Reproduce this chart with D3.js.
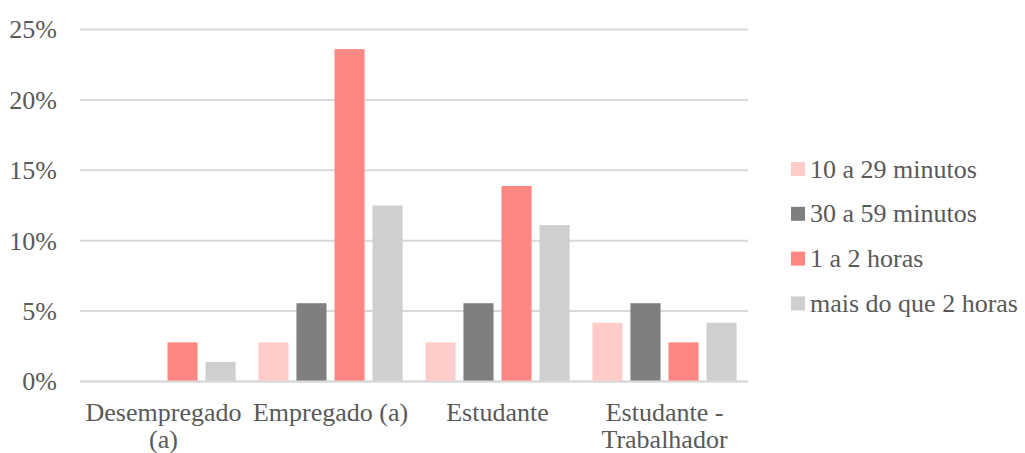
<!DOCTYPE html>
<html>
<head>
<meta charset="utf-8">
<script src="https://cdn.jsdelivr.net/npm/d3@7"></script>
<style>
    body { margin: 0; background: #fff; }
    svg text { font-family: "Liberation Serif", "Times New Roman", Times, "DejaVu Serif", serif; fill: #595959; }
</style>
</head>
<body>
<div id="chart"></div>
<script>
// Categories (each label split into lines as in the original)
const categories = ["Desempregado (a)", "Empregado (a)", "Estudante", "Estudante - Trabalhador"];
const categoryLines = [["Desempregado", "(a)"], ["Empregado (a)"], ["Estudante"], ["Estudante -", "Trabalhador"]];

// Series
const series = ["10 a 29 minutos", "30 a 59 minutos", "1 a 2 horas", "mais do que 2 horas"];
const colors = ["#FFCCCA", "#7F7F7F", "#FF8781", "#D0CECE"];

// Values (%) per series, in category order
const v10a29 = [0, 2.78, 2.78, 4.17];
const v30a59 = [0, 5.56, 5.56, 5.56];
const v1a2h = [2.78, 23.61, 13.89, 2.78];
const vMais2h = [1.39, 12.5, 11.11, 4.17];
const seriesValues = [v10a29, v30a59, v1a2h, vMais2h];

const yTicks = [0, 5, 10, 15, 20, 25];

const FONT = '"Liberation Serif", "Times New Roman", Times, "DejaVu Serif", serif';

// Layout
const width = 1025, height = 453;
const margin = {top: 29.5, left: 80, right: 277, bottom: 71.5};
const plotW = width - margin.left - margin.right;
const plotH = height - margin.top - margin.bottom;

const svg = d3.select("#chart").append("svg")
    .attr("width", width)
    .attr("height", height)
    .style("font-family", FONT);

const g = svg.append("g")
    .attr("transform", "translate(" + margin.left + "," + margin.top + ")");

// Scales
const x = d3.scaleBand().domain(categories).range([0, plotW]);
const xInner = d3.scaleBand().domain(series).range([0, x.bandwidth()])
    .paddingInner(0.21).paddingOuter(0.3);
const y = d3.scaleLinear().domain([0, 25]).range([plotH, 0]);

// Gridlines
g.selectAll(".grid")
    .data(yTicks)
    .enter().append("line")
    .attr("class", "grid")
    .attr("x1", 0).attr("x2", plotW)
    .attr("y1", d => y(d)).attr("y2", d => y(d))
    .attr("stroke", "#D9D9D9")
    .attr("stroke-width", 2);

// Y axis labels
const yAxis = d3.axisLeft(y).tickValues(yTicks).tickFormat(d => d + "%").tickSize(0).tickPadding(23);
g.append("g").call(yAxis)
    .attr("font-family", FONT)
    .call(a => a.select(".domain").remove())
    .selectAll("text")
    .style("font-family", FONT)
    .attr("font-size", "26px")
    .attr("fill", "#595959");

// Bars
const data = [];
categories.forEach((c, ci) => {
    series.forEach((s, si) => {
        data.push({cat: c, ser: s, value: seriesValues[si][ci], color: colors[si]});
    });
});

g.selectAll(".bar")
    .data(data.filter(d => d.value > 0))
    .enter().append("rect")
    .attr("class", "bar")
    .attr("x", d => x(d.cat) + xInner(d.ser))
    .attr("y", d => y(d.value))
    .attr("width", xInner.bandwidth())
    .attr("height", d => y(0) - y(d.value))
    .attr("fill", d => d.color);

// Baseline
g.append("line")
    .attr("x1", 0).attr("x2", plotW)
    .attr("y1", y(0)).attr("y2", y(0))
    .attr("stroke", "#D9D9D9")
    .attr("stroke-width", 2);

// X labels
const xl = g.selectAll(".xlabel")
    .data(categories)
    .enter().append("text")
    .attr("class", "xlabel")
    .attr("text-anchor", "middle")
    .style("font-family", FONT)
    .attr("font-size", "26px")
    .attr("y", plotH + 39);

xl.each(function(d, i) {
    const t = d3.select(this);
    categoryLines[i].forEach((line, li) => {
        t.append("tspan")
            .attr("x", x(d) + x.bandwidth() / 2)
            .attr("dy", li === 0 ? 0 : 27.5)
            .text(line);
    });
});

// Legend
const legend = svg.append("g").attr("transform", "translate(791,169)");
const items = legend.selectAll(".legend")
    .data(series)
    .enter().append("g")
    .attr("class", "legend")
    .attr("transform", (d, i) => "translate(0," + i * 44.8 + ")");

items.append("rect")
    .attr("x", 0).attr("y", -7)
    .attr("width", 14).attr("height", 14)
    .attr("fill", (d, i) => colors[i]);

items.append("text")
    .attr("x", 19)
    .attr("y", 0)
    .attr("dy", "0.33em")
    .style("font-family", FONT)
    .attr("font-size", "26px")
    .text(d => d);
</script>
</body>
</html>
